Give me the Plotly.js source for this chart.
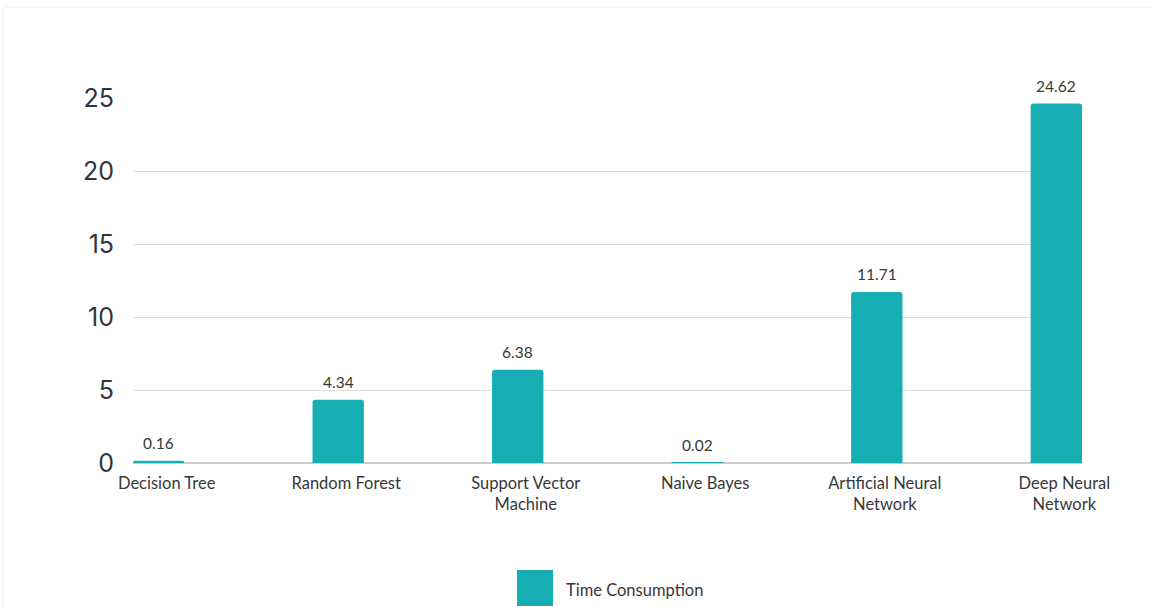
<!DOCTYPE html>
<html>
<head>
<meta charset="utf-8">
<script src="https://cdn.plot.ly/plotly-3.0.1.min.js"></script>
<style>
  html, body { margin: 0; padding: 0; background: #ffffff; }
  #chart { width: 1153px; height: 607px; }
</style>
</head>
<body>
<div id="chart"></div>
<script>
// Training time per model
const models = [
  "Decision Tree",
  "Random Forest",
  "Support Vector<br>Machine",
  "Naive Bayes",
  "Artificial Neural<br>Network",
  "Deep Neural<br>Network"
];
const timeConsumption = [0.16, 4.34, 6.38, 0.02, 11.71, 24.62];
const yTicks = [0, 5, 10, 15, 20, 25];
const seriesName = "Time Consumption";

const barColor = "#17aeb3";
const textColor = "#383838";
const labelFont = "Lato, 'Open Sans', sans-serif";

const trace = {
  type: "bar",
  x: models,
  y: timeConsumption,
  name: seriesName,
  marker: { color: barColor, cornerradius: 3 },
  width: 0.286,
  hoverinfo: "x+y",
  showlegend: false
};

// value labels above each bar
const valueLabels = models.map((m, i) => ({
  x: m,
  y: timeConsumption[i],
  xref: "x",
  yref: "y",
  text: timeConsumption[i].toFixed(2),
  showarrow: false,
  yanchor: "bottom",
  yshift: 7,
  font: { family: labelFont, size: 15.5, color: textColor }
}));

const layout = {
  width: 1153,
  height: 607,
  paper_bgcolor: "#ffffff",
  plot_bgcolor: "#ffffff",
  margin: { l: 133, r: 71, t: 98, b: 144 },
  bargap: 0.714,
  xaxis: {
    type: "category",
    range: [-0.143, 5.143],
    showgrid: false,
    showline: false,
    zeroline: false,
    ticks: "",
    ticklabelstandoff: 8,
    ticklabelshift: 8,
    tickfont: { family: labelFont, size: 16.5, color: textColor },
    fixedrange: true
  },
  yaxis: {
    range: [0, 25],
    tickvals: yTicks,
    showgrid: true,
    gridcolor: "#dddddd",
    gridwidth: 1,
    zeroline: true,
    zerolinecolor: "#cccccc",
    zerolinewidth: 1.5,
    showline: false,
    ticks: "",
    ticklabelstandoff: 18,
    tickfont: { family: "Inter, 'Open Sans', sans-serif", size: 25, color: "#2f3640" },
    fixedrange: true
  },
  showlegend: false,
  shapes: [
    // faint outer frame
    {
      type: "rect", xref: "paper", yref: "paper",
      x0: -0.137, x1: 1.2, y0: 1.249, y1: -0.6,
      line: { color: "#f0f0f0", width: 1 }, fillcolor: "rgba(0,0,0,0)", layer: "below"
    },
    // legend swatch
    {
      type: "rect", xref: "paper", yref: "paper",
      x0: 0.4046, x1: 0.4426, y0: -0.2932, y1: -0.3918,
      line: { width: 0 }, fillcolor: barColor
    }
  ],
  annotations: valueLabels.concat([
    {
      xref: "paper", yref: "paper",
      x: 0.4542, y: -0.348,
      xanchor: "left", yanchor: "middle",
      text: seriesName,
      showarrow: false,
      font: { family: labelFont, size: 16.5, color: textColor }
    }
  ])
};

Plotly.newPlot("chart", [trace], layout, { displayModeBar: false });
</script>
</body>
</html>
